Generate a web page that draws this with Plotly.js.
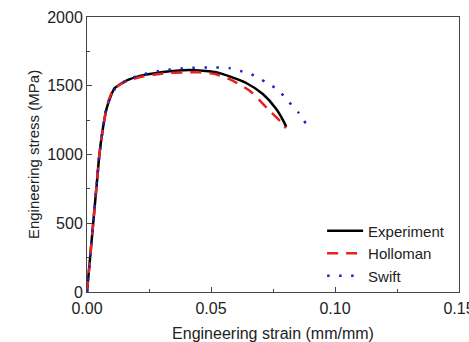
<!DOCTYPE html>
<html>
<head>
<meta charset="utf-8">
<script src="https://cdn.plot.ly/plotly-3.0.1.min.js"></script>
<style>html,body{margin:0;padding:0;background:#fff;}#chart{width:469px;height:342px;}</style>
</head>
<body>
<div id="chart"></div>
<script>
const seriesNames = ["Experiment", "Holloman", "Swift"];

const expStrain = [0, 0.001, 0.0025, 0.004, 0.005, 0.0065, 0.008, 0.0095, 0.011, 0.0133, 0.0165, 0.0213, 0.0294, 0.035, 0.0414, 0.0454, 0.05, 0.0535, 0.0575, 0.0642, 0.0709, 0.0763, 0.0796, 0.0803];
const expStress = [0, 200, 500, 800, 1000, 1200, 1340, 1420, 1480, 1510, 1542, 1572, 1597, 1607, 1614, 1611, 1603, 1592, 1568, 1520, 1440, 1331, 1230, 1200];

const holStrain = [0, 0.001, 0.0025, 0.004, 0.005, 0.0065, 0.008, 0.01, 0.013, 0.017, 0.022, 0.03, 0.04, 0.045, 0.05, 0.0535, 0.0575, 0.0656, 0.0729, 0.0796, 0.0800];
const holStress = [0, 200, 500, 800, 1000, 1200, 1350, 1450, 1505, 1540, 1565, 1588, 1598, 1598, 1590, 1575, 1548, 1464, 1331, 1210, 1190];

const swfStrain = [0, 0.001, 0.0025, 0.004, 0.005, 0.0065, 0.008, 0.011, 0.015, 0.02, 0.03, 0.04, 0.05, 0.0575, 0.0626, 0.0673, 0.072, 0.0771, 0.0812, 0.0854, 0.0886];
const swfStress = [0, 200, 500, 800, 1000, 1200, 1350, 1470, 1530, 1570, 1610, 1628, 1633, 1628, 1604, 1575, 1527, 1469, 1386, 1302, 1215];

const xTickVals = [0, 0.05, 0.10, 0.15];
const xTickText = ["0.00", "0.05", "0.10", "0.15"];
const yTickVals = [0, 500, 1000, 1500, 2000];
const yTickText = ["0", "500", "1000", "1500", "2000"];

const font = "Liberation Sans, Arial, sans-serif";

const traces = [
  {x: expStrain, y: expStress, name: seriesNames[0], mode: "lines",
   line: {color: "#000000", width: 2.5, shape: "spline", smoothing: 0.6}},
  {x: holStrain, y: holStress, name: seriesNames[1], mode: "lines",
   line: {color: "#e8201e", width: 2.5, dash: "11px,8px", shape: "spline", smoothing: 0.6}},
  {x: swfStrain, y: swfStress, name: seriesNames[2], mode: "lines",
   line: {color: "#1f22c8", width: 2.5, dash: "2.5px,9.5px", shape: "spline", smoothing: 0.6}}
];

const axisCommon = {
  showgrid: false, zeroline: false, showline: true, mirror: true,
  linecolor: "#444", linewidth: 1, ticks: "inside", ticklen: 5, tickwidth: 1, tickcolor: "#444",
  tickfont: {family: font, size: 16, color: "#222"},
  ticklabeloverflow: "allow",
  minor: {ticks: "inside", ticklen: 3, tickwidth: 1, tickcolor: "#444"}
};

const layout = {
  width: 469, height: 342,
  margin: {l: 87, r: 10, t: 17, b: 50},
  paper_bgcolor: "#fff", plot_bgcolor: "#fff",
  showlegend: true,
  legend: {x: 0.632, y: 0.282, xanchor: "left", yanchor: "top", bgcolor: "rgba(0,0,0,0)",
           font: {family: font, size: 15, color: "#222"}, tracegroupgap: 0, itemwidth: 36},
  xaxis: Object.assign({}, axisCommon, {
    range: [0, 0.15], tickvals: xTickVals, ticktext: xTickText, ticklabelstandoff: 2,
    minor: Object.assign({}, axisCommon.minor, {dtick: 0.025, tick0: 0}),
    title: {text: "Engineering strain (mm/mm)", font: {family: font, size: 16, color: "#222"}, standoff: 12}
  }),
  yaxis: Object.assign({}, axisCommon, {
    range: [0, 2000], tickvals: yTickVals, ticktext: yTickText,
    minor: Object.assign({}, axisCommon.minor, {dtick: 250, tick0: 0}),
    title: {text: "Engineering stress (MPa)", font: {family: font, size: 15, color: "#222"}, standoff: 3}
  })
};

Plotly.newPlot("chart", traces, layout, {displayModeBar: false, staticPlot: true});
</script>
</body>
</html>
